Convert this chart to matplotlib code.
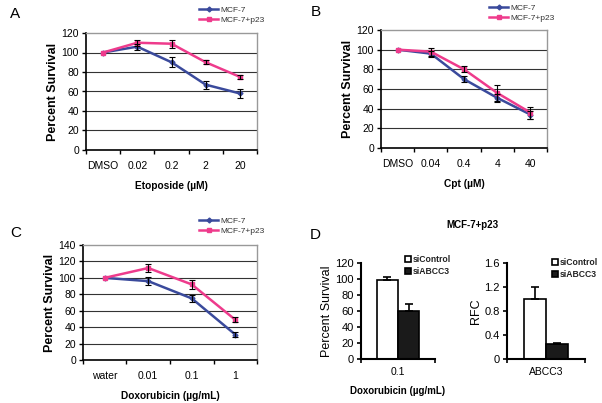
import matplotlib
matplotlib.use("Agg")
import matplotlib.pyplot as plt
import numpy as np

plt.rcParams['font.family'] = ['Liberation Sans', 'DejaVu Sans']

BLUE = '#3a4a9c'
PINK = '#ee3b8c'

# ---- Data ----
a_cats = ['DMSO', '0.02', '0.2', '2', '20']
a_mcf7 = [100, 106, 90, 67, 58]
a_mcf7_err = [0, 3, 5, 4, 5]
a_p23 = [100, 110, 109, 90, 75]
a_p23_err = [0, 3, 4, 2, 2]

b_cats = ['DMSO', '0.04', '0.4', '4', '40']
b_mcf7 = [100, 96, 70, 51, 34]
b_mcf7_err = [0, 3, 3, 4, 4]
b_p23 = [100, 98, 80, 56, 36]
b_p23_err = [0, 4, 3, 8, 6]

c_cats = ['water', '0.01', '0.1', '1']
c_mcf7 = [100, 96, 75, 31]
c_mcf7_err = [0, 5, 4, 3]
c_p23 = [100, 112, 92, 49]
c_p23_err = [0, 5, 5, 3]

d1_cat = ['0.1']
d1_sicontrol = [99]
d1_sicontrol_err = [3]
d1_siabcc3 = [60]
d1_siabcc3_err = [9]

d2_cat = ['ABCC3']
d2_sicontrol = [1.0]
d2_sicontrol_err = [0.2]
d2_siabcc3 = [0.25]
d2_siabcc3_err = [0.02]

fig = plt.figure(figsize=(6.02, 4.03), dpi=100)

def px(x0, y0, x1, y1):
    W, H = 602, 403
    return [x0 / W, 1 - y1 / H, (x1 - x0) / W, (y1 - y0) / H]

def line_panel(rect, cats, m, me, p, pe, ymax, xlabel, legpos):
    ax = fig.add_axes(rect)
    n = len(cats)
    x = np.arange(n)
    ax.set_xlim(-0.5, n - 0.5)
    ax.set_ylim(0, ymax)
    ax.set_yticks(np.arange(0, ymax + 1, 20))
    for yv in np.arange(20, ymax, 20):
        ax.axhline(yv, color='#333333', lw=0.8, zorder=0)
    for s in ['top', 'right']:
        ax.spines[s].set_color('#999999')
        ax.spines[s].set_linewidth(1.0)
    for s in ['left', 'bottom']:
        ax.spines[s].set_color('black')
        ax.spines[s].set_linewidth(1.2)
    ax.plot(x, m, color=BLUE, lw=1.8, marker='D', ms=2.5, zorder=3, label='MCF-7')
    ax.errorbar(x[1:], m[1:], yerr=me[1:], fmt='none', ecolor='black', elinewidth=0.8, capsize=2, capthick=0.8, zorder=4)
    ax.plot(x, p, color=PINK, lw=1.8, marker='s', ms=3.5, zorder=3, label='MCF-7+p23')
    ax.errorbar(x[1:], p[1:], yerr=pe[1:], fmt='none', ecolor='black', elinewidth=0.8, capsize=2, capthick=0.8, zorder=4)
    ax.set_xticks(np.arange(-0.5, n, 1.0))
    ax.set_xticklabels([])
    ax.set_xticks(x, minor=True)
    ax.set_xticklabels(cats, minor=True, fontsize=7.5)
    ax.tick_params(axis='x', which='minor', length=0, pad=8)
    ax.tick_params(axis='x', which='major', length=3, width=1, direction='out')
    ax.tick_params(axis='y', length=3, width=1, direction='out', labelsize=7.5, pad=2)
    ax.set_xlabel(xlabel, fontsize=7.3, fontweight='bold', labelpad=7)
    ax.set_ylabel('Percent Survival', fontsize=9, fontweight='bold', labelpad=2)
    ax.legend(loc='lower left', bbox_to_anchor=legpos, bbox_transform=fig.transFigure,
              frameon=False, fontsize=6, handlelength=2.3, handletextpad=0.3,
              labelspacing=0.25, borderpad=0, labelcolor='#333333')
    return ax

# Panel A
line_panel(px(86, 33, 257, 150), a_cats, a_mcf7, a_mcf7_err, a_p23, a_p23_err, 120,
           'Etoposide (µM)', (195 / 602, 1 - 28 / 403))
# Panel B
line_panel(px(381, 30, 547, 148), b_cats, b_mcf7, b_mcf7_err, b_p23, b_p23_err, 120,
           'Cpt (µM)', (485 / 602, 1 - 26 / 403))
# Panel C
line_panel(px(83, 245, 257, 360), c_cats, c_mcf7, c_mcf7_err, c_p23, c_p23_err, 140,
           'Doxorubicin (µg/mL)', (195 / 602, 1 - 239 / 403))

# Panel D
def bar_panel(rect, cat, c, ce, b, be, ymax, ystep, fmt, ylabel, xlabel, legpos, labelsize):
    ax = fig.add_axes(rect)
    ax.set_xlim(-0.5, 0.5)
    ax.set_ylim(0, ymax)
    w = 0.285
    ax.bar([-w / 2], c, width=w, color='white', edgecolor='black', lw=1.2, label='siControl', zorder=2)
    ax.errorbar([-w / 2], c, yerr=[[0], ce], fmt='none', ecolor='black', elinewidth=1.2, capsize=3, capthick=1.2, zorder=3)
    ax.bar([w / 2], b, width=w, color='#1a1a1a', edgecolor='black', lw=1.2, label='siABCC3', zorder=2)
    ax.errorbar([w / 2], b, yerr=[[0], be], fmt='none', ecolor='black', elinewidth=1.2, capsize=3, capthick=1.2, zorder=3)
    ticks = np.arange(0, ymax + ystep / 2, ystep)
    ax.set_yticks(ticks)
    ax.set_yticklabels([fmt(t) for t in ticks])
    ax.set_xticks([-0.5, 0.5])
    ax.set_xticklabels([])
    ax.set_xticks([0], minor=True)
    ax.set_xticklabels(cat, minor=True, fontsize=7.5)
    ax.tick_params(axis='x', which='minor', length=0, pad=6)
    ax.tick_params(axis='x', which='major', length=3, width=1.2)
    ax.tick_params(axis='y', length=3, width=1.2, labelsize=labelsize, pad=2)
    for s in ['top', 'right']:
        ax.spines[s].set_visible(False)
    for s in ['left', 'bottom']:
        ax.spines[s].set_linewidth(1.5)
    ax.set_ylabel(ylabel, fontsize=9, labelpad=2)
    if xlabel:
        ax.set_xlabel(xlabel, fontsize=7, fontweight='bold', labelpad=6)
    ax.legend(loc='lower left', bbox_to_anchor=legpos, bbox_transform=fig.transFigure,
              frameon=False, handlelength=0.7, handleheight=0.8, handletextpad=0.25,
              labelspacing=0.35, borderpad=0, borderaxespad=0,
              prop={'size': 6.2, 'weight': 'bold'}, labelcolor='#222222')
    return ax

bar_panel(px(361, 263, 435, 359), d1_cat, d1_sicontrol, d1_sicontrol_err, d1_siabcc3, d1_siabcc3_err,
          120, 20, lambda t: f'{int(t)}', 'Percent Survival', 'Doxorubicin (µg/mL)',
          (405 / 602, 1 - 276 / 403), 8)
bar_panel(px(507, 263, 585, 359), d2_cat, d2_sicontrol, d2_sicontrol_err, d2_siabcc3, d2_siabcc3_err,
          1.6, 0.4, lambda t: '0' if t == 0 else f'{t:.1f}', 'RFC', None,
          (552 / 602, 1 - 279 / 403), 8)

fig.text(472 / 602, 1 - 225 / 403, 'MCF-7+p23', fontsize=7, fontweight='bold', ha='center', va='center')

# Panel letters
for lbl, (xx, yy) in {'A': (10, 14), 'B': (311, 12), 'C': (10, 233), 'D': (310, 235)}.items():
    fig.text(xx / 602, 1 - yy / 403, lbl, fontsize=11, ha='left', va='center')

fig.savefig('out.png', dpi=100)
